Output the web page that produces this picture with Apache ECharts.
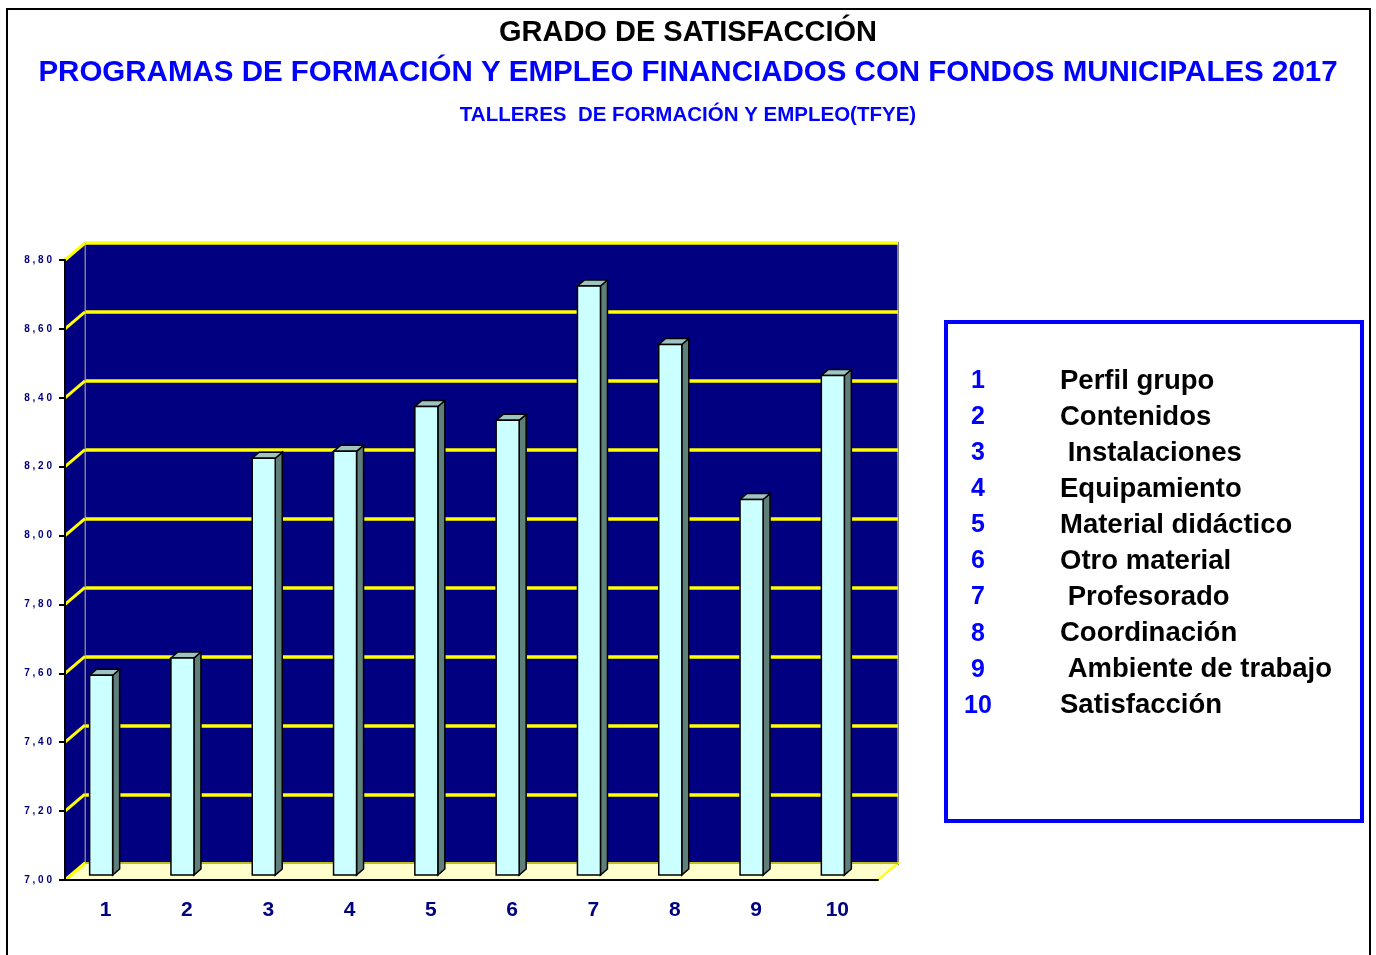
<!DOCTYPE html>
<html>
<head>
<meta charset="utf-8">
<script src="https://cdn.jsdelivr.net/npm/echarts@6/dist/echarts.min.js"></script>
<style>
  html, body { margin: 0; padding: 0; background: #fff; }
  #main { width: 1376px; height: 955px; }
</style>
</head>
<body>
<div id="main"></div>
<script>
// datos del gráfico
var categorias = ['1', '2', '3', '4', '5', '6', '7', '8', '9', '10'];
var valores = [7.58, 7.63, 8.21, 8.23, 8.36, 8.32, 8.71, 8.54, 8.09, 8.45];
var conceptos = ['Perfil grupo', 'Contenidos', ' Instalaciones', 'Equipamiento', 'Material didáctico',
                 'Otro material', ' Profesorado', 'Coordinación', ' Ambiente de trabajo', 'Satisfacción'];
var marcasY = [7.0, 7.2, 7.4, 7.6, 7.8, 8.0, 8.2, 8.4, 8.6, 8.8];

var FONT = 'Liberation Sans, Arial, sans-serif';
var DX = 20, DY = -17;   // profundidad de la pared

var myChart = echarts.init(document.getElementById('main'));

// barras con aspecto 3D
function pintarBarra(params, api) {
  var top = api.coord([api.value(0), api.value(1)]);
  var base = api.coord([api.value(0), 7]);
  var w = 23, dx = 7, dy = -6, lift = 5;
  var x0 = top[0] - 16, y0 = top[1] - lift, yb = base[1] - lift;
  return {
    type: 'group',
    children: [
      { type: 'polygon', shape: { points: [[x0 + w, y0], [x0 + w + dx, y0 + dy], [x0 + w + dx, yb + dy], [x0 + w, yb]] },
        style: { fill: '#5F7F7B', stroke: '#000', lineWidth: 1.5 } },
      { type: 'polygon', shape: { points: [[x0, y0], [x0 + dx, y0 + dy], [x0 + w + dx, y0 + dy], [x0 + w, y0]] },
        style: { fill: '#9EC3C3', stroke: '#000', lineWidth: 1.5 } },
      { type: 'rect', shape: { x: x0, y: y0, width: w, height: yb - y0 },
        style: { fill: '#CCFFFF', stroke: '#000', lineWidth: 1.5 } }
    ]
  };
}

// pared lateral y suelo
function pintarParedes(params, api) {
  var cs = params.coordSys;
  var x = cs.x, y = cs.y, w = cs.width, h = cs.height;
  return {
    type: 'group',
    children: [
      { type: 'polygon', shape: { points: [[x, y + h], [x, y], [x + DX, y + DY], [x + DX, y + h + DY]] },
        style: { fill: '#000080', stroke: '#808080', lineWidth: 1 } },
      { type: 'polygon', shape: { points: [[x, y + h], [x + w, y + h], [x + w + DX, y + h + DY], [x + DX, y + h + DY]] },
        style: { fill: '#FFFFCC', stroke: '#FFFF00', lineWidth: 2 } },
      { type: 'line', shape: { x1: x + DX, y1: y + h + DY, x2: x + w + DX, y2: y + h + DY },
        style: { stroke: '#808040', lineWidth: 1 } }
    ]
  };
}

function pintarMarca(params, api) {
  var cs = params.coordSys;
  var p = api.coord([0, api.value(0)]);
  return {
    type: 'line',
    shape: { x1: cs.x, y1: p[1], x2: cs.x + DX, y2: p[1] + DY },
    style: { stroke: '#FFFF00', lineWidth: 3 }
  };
}

// leyenda
var leyenda = [];
for (var i = 0; i < categorias.length; i++) {
  var yy = 381 + i * 36.1;
  leyenda.push({ type: 'text', x: 978, y: yy,
    style: { text: categorias[i], fill: '#0000FF', font: 'bold 25px ' + FONT, textAlign: 'center', textVerticalAlign: 'middle' } });
  leyenda.push({ type: 'text', x: 1060, y: yy,
    style: { text: conceptos[i], fill: '#000', font: 'bold 27.5px ' + FONT, textAlign: 'left', textVerticalAlign: 'middle' } });
}

option = {
  backgroundColor: '#fff',
  animation: false,
  title: [
    { text: 'GRADO DE SATISFACCIÓN', left: 'center', top: 13,
      textStyle: { fontFamily: FONT, fontSize: 29, fontWeight: 'bold', color: '#000' } },
    { text: 'PROGRAMAS DE FORMACIÓN Y EMPLEO FINANCIADOS CON FONDOS MUNICIPALES 2017', left: 'center', top: 53,
      textStyle: { fontFamily: FONT, fontSize: 29.5, fontWeight: 'bold', color: '#0000FF' } },
    { text: 'TALLERES  DE FORMACIÓN Y EMPLEO(TFYE)', left: 'center', top: 100,
      textStyle: { fontFamily: FONT, fontSize: 20.5, fontWeight: 'bold', color: '#0000FF' } }
  ],
  grid: [
    // pared del fondo
    { left: 85, top: 243, width: 813, height: 621, show: true, backgroundColor: '#000080',
      borderColor: '#808080', borderWidth: 2 },
    // ejes frontales
    { left: 65, top: 260, width: 813, height: 620 }
  ],
  xAxis: [
    { gridIndex: 0, type: 'category', data: categorias, show: false },
    { gridIndex: 1, type: 'category', data: categorias, z: 10,
      axisLine: { lineStyle: { color: '#000', width: 2 } },
      axisTick: { length: 6, lineStyle: { color: '#000', width: 2 } },
      axisLabel: { margin: 20, fontFamily: FONT, fontSize: 21, fontWeight: 'bold', color: '#000080' } }
  ],
  yAxis: [
    { gridIndex: 0, type: 'value', min: 7, max: 8.8, interval: 0.2,
      axisLine: { show: false }, axisTick: { show: false }, axisLabel: { show: false },
      splitLine: { lineStyle: { color: '#FFFF00', width: 3.5 } } },
    { gridIndex: 1, type: 'value', min: 7, max: 8.8, interval: 0.2, z: 10,
      axisLine: { show: true, lineStyle: { color: '#000', width: 2 } },
      axisTick: { show: true, length: 6, lineStyle: { color: '#000', width: 2 } },
      axisLabel: { margin: 13, fontFamily: FONT, fontSize: 10, fontWeight: 'bold', color: '#000080',
        formatter: function (v) { return v.toFixed(2).replace('.', ',').split('').join(' '); } },
      splitLine: { show: false } }
  ],
  series: [
    { type: 'custom', xAxisIndex: 1, yAxisIndex: 1, z: 1, silent: true,
      data: [[0, 7]], renderItem: pintarParedes },
    { type: 'custom', xAxisIndex: 1, yAxisIndex: 1, z: 2, silent: true,
      data: marcasY.map(function (m) { return [m]; }), encode: { y: 0 }, renderItem: pintarMarca },
    { type: 'custom', name: 'Grado de satisfacción', xAxisIndex: 1, yAxisIndex: 1, z: 3,
      data: valores.map(function (v, i) { return [i, v]; }), renderItem: pintarBarra }
  ],
  graphic: [
    { type: 'rect', shape: { x: 7, y: 9, width: 1363, height: 960 }, silent: true,
      style: { fill: 'none', stroke: '#000', lineWidth: 2 } },
    { type: 'rect', shape: { x: 946, y: 322, width: 416, height: 499 }, silent: true,
      style: { fill: 'none', stroke: '#0000FF', lineWidth: 4 } },
    { type: 'group', children: leyenda }
  ]
};

myChart.setOption(option, true);
</script>
</body>
</html>
